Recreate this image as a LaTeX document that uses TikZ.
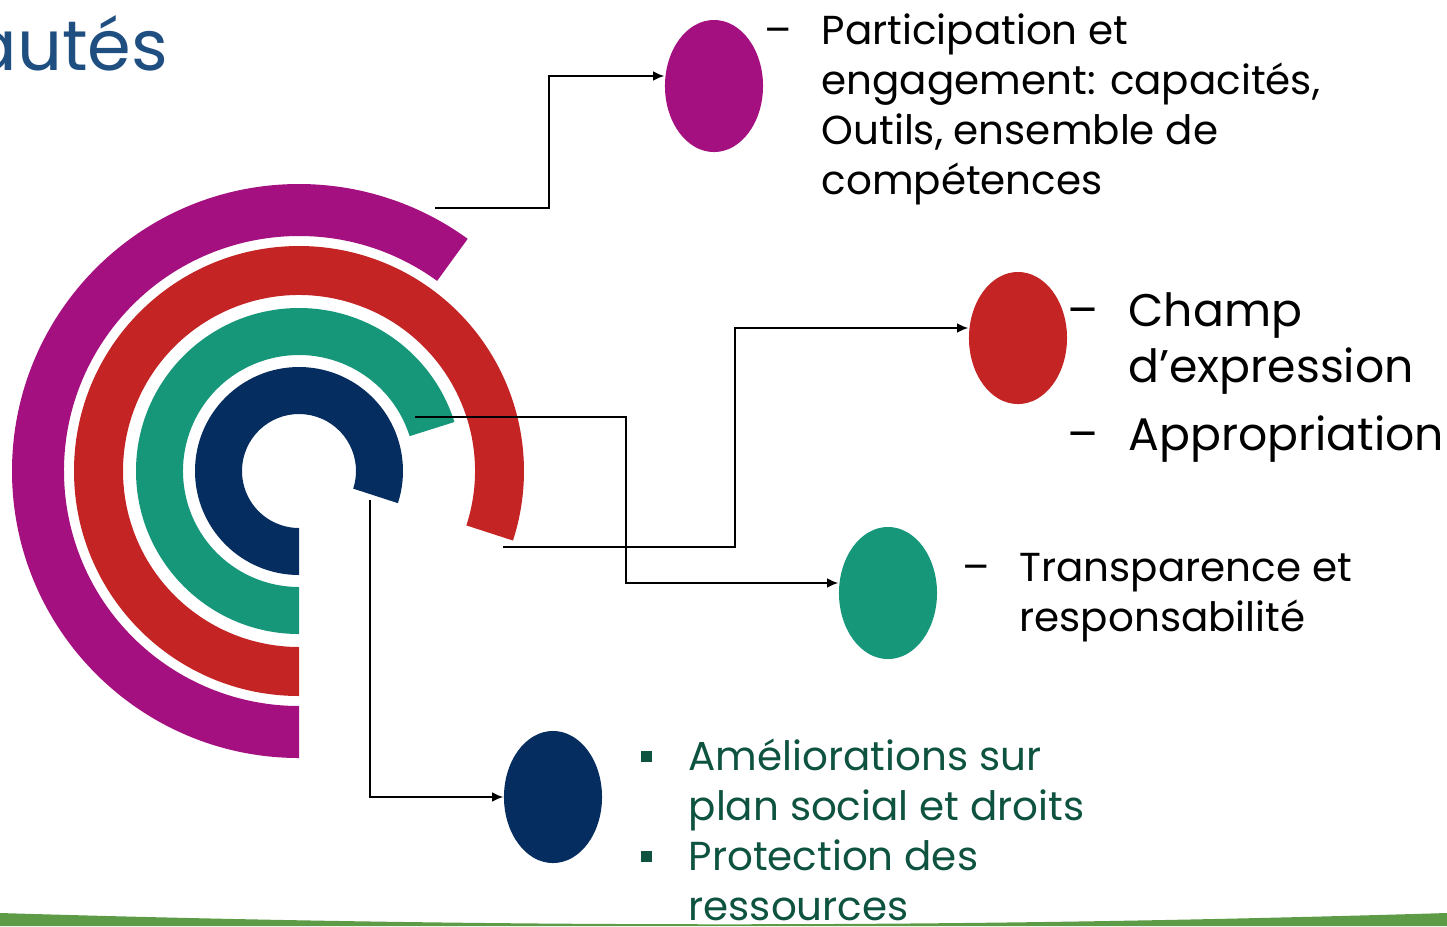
\documentclass[tikz,border=0pt]{standalone}
\usepackage{fontspec}
\setmainfont{Poppins}
\usetikzlibrary{shapes.geometric, arrows.meta, positioning}
\definecolor{ringpurple}{RGB}{164,16,127}
\definecolor{ringred}{RGB}{196,36,36}
\definecolor{ringgreen}{RGB}{22,151,122}
\definecolor{ringnavy}{RGB}{6,45,95}
\definecolor{leafdark}{RGB}{14,82,64}
\definecolor{titleblue}{RGB}{31,78,128}
\definecolor{ground}{RGB}{94,155,71}
\newcommand{\dashmark}{\llap{--\hspace{0.3cm}}}
\newcommand{\boxmark}{\llap{\textcolor{leafdark}{\raisebox{0.08cm}{\rule{0.11cm}{0.11cm}}}\hspace{0.37cm}}}

\begin{document}
\begin{tikzpicture}[x=0.01cm, y=0.01cm]
        % Define styles
        \tikzset{
            blob/.style={ellipse, minimum width=0.98cm, minimum height=1.32cm, inner sep=0pt},
            link/.style={-{Latex[length=3.2pt, width=2.8pt]}, line width=0.5pt},
            label/.style={font=\fontsize{11.5}{14.2}\selectfont, align=left, anchor=north west, inner sep=0pt},
            biglabel/.style={label, font=\fontsize{13}{15.9}\selectfont}
        }
        \useasboundingbox (0,0) rectangle (1447,-926);
        % Green strip along the bottom
        \fill[ground] (0,-926) -- (0,-913) .. controls (500,-928) and (950,-928) .. (1447,-913) -- (1447,-926) -- cycle;
        % Title, cut at the left edge
        \node[font=\fontsize{20}{24}\selectfont, text=titleblue, anchor=base east, inner sep=0pt] (title) at (169,-70) {autés};
        % The four rings, all cut at the bottom
        \coordinate (ctr) at (299,-471);
        \foreach \col/\ro/\ri/\ea in {ringpurple/287/235/54, ringred/225/176/-18, ringgreen/163/116/17.5, ringnavy/104/57/-18}
            \fill[\col] (ctr) ++(270:\ro) arc[start angle=270, end angle=\ea, radius=\ro]
                -- ([shift={(\ea:\ri)}]ctr) arc[start angle=\ea, end angle=270, radius=\ri] -- cycle;
        % Ellipses, one per ring
        \node[blob, fill=ringpurple] (purple) at (714,-86) {};
        \node[blob, fill=ringred] (red) at (1018,-338) {};
        \node[blob, fill=ringgreen] (green) at (888,-593) {};
        \node[blob, fill=ringnavy] (navy) at (553,-797) {};
        % Where the connectors leave the rings
        \coordinate (outpurple) at (435,-208);
        \coordinate (outred) at (503,-547);
        \coordinate (outgreen) at (415,-417);
        \coordinate (outnavy) at (370,-500);
        % Connectors
        \draw[link] (outpurple) -- ++(114,0) |- ([yshift=0.1cm]purple.west);
        \draw[link] (outred) -- ++(232,0) |- ([yshift=0.1cm]red.west);
        \draw[link] (outgreen) -- ++(211,0) |- ([yshift=0.1cm]green.west);
        \draw[link] (outnavy) |- (navy.west);
        % Texts
        \node[label] (purpletext) at (821,-13) {\dashmark Participation et\\engagement: capacités,\\Outils, ensemble de\\compétences};
        \node[biglabel] (redtext) at (1128,-292) {\dashmark Champ\\d’expression\\[3.4pt]\dashmark Appropriation};
        \node[label] (greentext) at (1019,-553) {\dashmark Transparence et\\responsabilité};
        \node[label, text=leafdark] (navytext) at (688,-738) {\boxmark Améliorations sur\\plan social et droits\\\boxmark Protection des\\ressources};
    \end{tikzpicture}
\end{document}
